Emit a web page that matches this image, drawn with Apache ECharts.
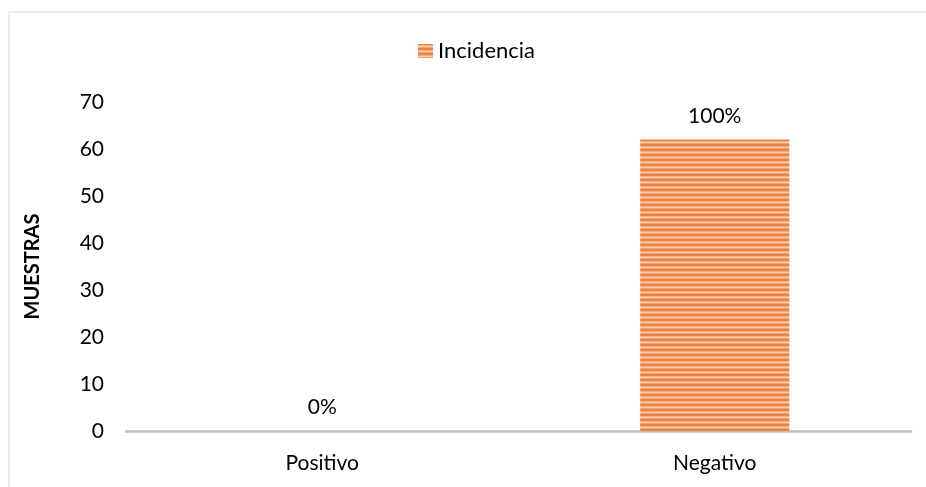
<!DOCTYPE html>
<html><head><meta charset="utf-8">
<script src="https://cdn.jsdelivr.net/npm/echarts@6/dist/echarts.min.js"></script>
<style>html,body{margin:0;padding:0;background:#fff}#c{width:926px;height:487px}</style>
</head><body><div id="c"></div>
<script>
const categories = ["Positivo", "Negativo"];
const values = [0, 62];
const pctLabels = ["0%", "100%"];
const seriesName = "Incidencia";
const yTicks = [0, 10, 20, 30, 40, 50, 60, 70];

function stripe() {
  const c = document.createElement('canvas');
  c.width = 4; c.height = 5;
  const g = c.getContext('2d');
  g.fillStyle = '#EE8040'; g.fillRect(0, 0, 4, 5);
  g.fillStyle = '#F5AE82'; g.fillRect(0, 1, 4, 1);
  g.fillStyle = '#F9CBAE'; g.fillRect(0, 2, 4, 1);
  g.fillStyle = '#F3A070'; g.fillRect(0, 3, 4, 1);
  return c;
}
const pat = { image: stripe(), repeat: 'repeat' };
const font = 'Lato, "Open Sans", sans-serif';

const chart = echarts.init(document.getElementById('c'));
chart.setOption({
  animation: false,
  textStyle: { fontFamily: font },
  graphic: [{ type: 'rect', shape: { x: 9, y: 12, width: 940, height: 500 },
    style: { fill: 'none', stroke: '#d9d9d9', lineWidth: 1 } }],
  legend: { top: 35, left: 413, itemWidth: 15, itemHeight: 14, itemGap: 5,
    textStyle: { fontSize: 22, color: '#000', fontFamily: font },
    data: [{ name: seriesName, icon: 'rect', itemStyle: { color: pat } }] },
  grid: { left: 126, right: 15, top: 102, bottom: 56 },
  xAxis: { type: 'category', data: categories,
    axisLine: { lineStyle: { color: '#bfbfbf', width: 2.5 } },
    axisTick: { show: false },
    axisLabel: { fontSize: 21, color: '#000', margin: 22, fontFamily: font } },
  yAxis: { type: 'value', min: yTicks[0], max: yTicks[yTicks.length - 1], interval: 10,
    name: 'MUESTRAS', nameLocation: 'middle', nameGap: 83, nameRotate: 90,
    nameTextStyle: { fontSize: 20, fontWeight: 'bold', color: '#000', fontFamily: font },
    axisLine: { show: false }, axisTick: { show: false }, splitLine: { show: false },
    axisLabel: { fontSize: 21, color: '#000', margin: 22, fontFamily: font } },
  series: [{ type: 'bar', name: seriesName, data: values, barWidth: '38%',
    itemStyle: { color: pat },
    label: { show: true, position: 'top', distance: 13, fontSize: 21, color: '#000', fontFamily: font,
      formatter: p => pctLabels[p.dataIndex] } }]
});
</script></body></html>
